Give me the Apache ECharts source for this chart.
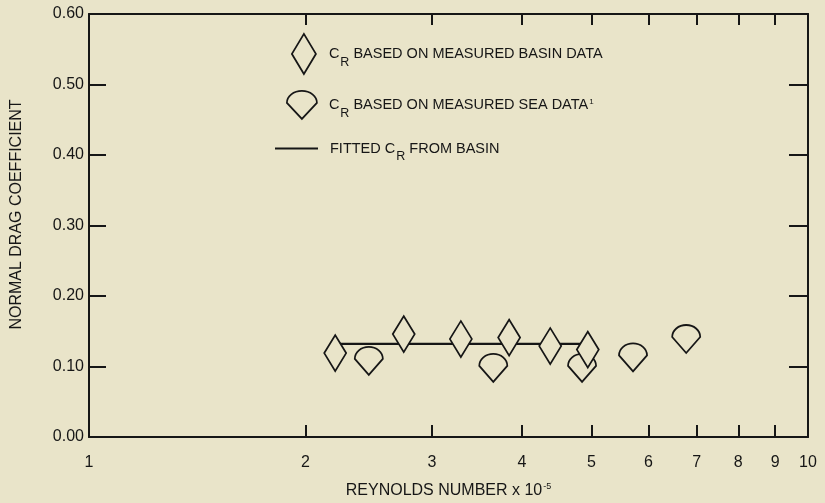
<!DOCTYPE html>
<html>
<head>
<meta charset="utf-8">
<script src="https://cdn.jsdelivr.net/npm/echarts@6/dist/echarts.min.js"></script>
<style>
html,body{margin:0;padding:0;background:#e9e4c9;}
#chart{width:825px;height:503px;}
</style>
</head>
<body>
<div id="chart"></div>
<script>
// Basin data (diamonds): [Reynolds number x 1e-5, Cr]
const basinX = [2.20, 2.74, 3.29, 3.84, 4.38, 4.94];
const basinY = [0.119, 0.146, 0.139, 0.141, 0.129, 0.124];
// Sea data
const seaX = [2.45, 3.65, 4.85, 5.71, 6.77];
const seaY = [0.108, 0.098, 0.098, 0.113, 0.139];
// Fitted line from basin
const fitX = [2.20, 4.94];
const fitY = [0.132, 0.132];
// Tick values
const xTickValues = [1, 2, 3, 4, 5, 6, 7, 8, 9, 10];
const xInnerTicks = [2, 3, 4, 5, 6, 7, 8, 9];
const yTickLabels = [0, 0.1, 0.2, 0.3, 0.4, 0.5, 0.6];
const yInnerTicks = [0.1, 0.2, 0.3, 0.4, 0.5];

const BG = '#e9e4c9';
const INK = '#161616';
const FONT = '"Liberation Sans", Arial, Helvetica, sans-serif';
const seaSymbol = 'path://M0,12 A14,12 0 0 1 28,12 L14,28 Z';
const seaLegendSymbol = 'path://M0,10 A15,12 0 0 1 30,10 L15,26 Z';

const legendText = {
  color: INK, fontFamily: FONT, fontSize: 14.5, padding: [0, 0, 0, 8],
  rich: {
    sub: {fontSize: 12.5, fontFamily: FONT, color: INK, padding: [17, 0, 0, 1]},
    sup: {fontSize: 8, fontFamily: FONT, color: INK, padding: [0, 0, 7, 1]}
  }
};
const legendItemStyle = {color: BG, borderColor: INK, borderWidth: 1.8};

const chart = echarts.init(document.getElementById('chart'), null, {renderer: 'canvas'});
chart.setOption({
  backgroundColor: BG,
  animation: false,
  grid: {left: 89, right: 17, top: 14, bottom: 66, containLabel: false, outerBoundsMode: 'none'},
  legend: [
    {
      data: [{name: 'basin', icon: 'diamond'}],
      left: 291, top: 33, itemWidth: 24, itemHeight: 40, padding: 0, selectedMode: false,
      itemStyle: legendItemStyle, textStyle: legendText,
      formatter: () => 'C{sub|R} BASED ON MEASURED BASIN DATA'
    },
    {
      data: [{name: 'sea', icon: seaLegendSymbol}],
      left: 286, top: 90, itemWidth: 30, itemHeight: 28, padding: 0, selectedMode: false,
      itemStyle: legendItemStyle, textStyle: Object.assign({}, legendText, {padding: [0, 0, 0, 7]}),
      formatter: () => 'C{sub|R} BASED ON MEASURED SEA DATA{sup|1}'
    },
    {
      data: [{name: 'fit', icon: 'rect'}],
      left: 275, top: 141, itemWidth: 43, itemHeight: 2, padding: 0, selectedMode: false,
      itemStyle: {color: INK, borderWidth: 0}, textStyle: Object.assign({}, legendText, {padding: [0, 0, 0, 7]}),
      formatter: () => 'FITTED C{sub|R} FROM BASIN'
    }
  ],
  xAxis: [
    {
      type: 'log', logBase: 10, min: 1, max: 10, position: 'bottom',
      name: 'REYNOLDS NUMBER x 10{sup|-5}', nameLocation: 'middle', nameGap: 45,
      nameTextStyle: {color: INK, fontFamily: FONT, fontSize: 16,
        rich: {sup: {fontSize: 9, fontFamily: FONT, color: INK, padding: [0, 0, 9, 1]}}},
      axisLine: {show: true, onZero: false, lineStyle: {color: INK, width: 2}},
      axisTick: {show: true, inside: true, length: 12, lineStyle: {color: INK, width: 2}, customValues: xInnerTicks},
      axisLabel: {show: true, margin: 18, color: INK, fontFamily: FONT, fontSize: 16, customValues: xTickValues,
        formatter: v => String(Math.round(v))},
      splitLine: {show: false}, minorTick: {show: false}
    },
    {
      type: 'log', logBase: 10, min: 1, max: 10, position: 'top',
      axisLine: {show: true, onZero: false, lineStyle: {color: INK, width: 2}},
      axisTick: {show: true, inside: true, length: 11, lineStyle: {color: INK, width: 2}, customValues: xInnerTicks},
      axisLabel: {show: false},
      splitLine: {show: false}
    }
  ],
  yAxis: [
    {
      type: 'value', min: 0, max: 0.6, interval: 0.1, position: 'left',
      name: 'NORMAL DRAG COEFFICIENT', nameLocation: 'middle', nameGap: 64, nameRotate: 90,
      nameTextStyle: {color: INK, fontFamily: FONT, fontSize: 16, padding: [0, 0, 0, 22]},
      axisLine: {show: true, onZero: false, lineStyle: {color: INK, width: 2}},
      axisTick: {show: true, inside: true, length: 17, lineStyle: {color: INK, width: 2}, customValues: yInnerTicks},
      axisLabel: {show: true, margin: 5, color: INK, fontFamily: FONT, fontSize: 16, customValues: yTickLabels,
        formatter: v => v.toFixed(2)},
      splitLine: {show: false}
    },
    {
      type: 'value', min: 0, max: 0.6, interval: 0.1, position: 'right',
      axisLine: {show: true, onZero: false, lineStyle: {color: INK, width: 2}},
      axisTick: {show: true, inside: true, length: 19, lineStyle: {color: INK, width: 2}, customValues: yInnerTicks},
      axisLabel: {show: false},
      splitLine: {show: false}
    }
  ],
  series: [
    {
      name: 'fit', type: 'line', xAxisIndex: 0, yAxisIndex: 0, z: 1,
      data: fitX.map((x, i) => [x, fitY[i]]),
      symbol: 'none', color: INK, lineStyle: {color: INK, width: 2.2}
    },
    {
      name: 'sea', type: 'scatter', xAxisIndex: 1, yAxisIndex: 0, z: 3,
      data: seaX.map((x, i) => [x, seaY[i]]),
      symbol: seaSymbol, symbolSize: [28, 28],
      itemStyle: {color: BG, borderColor: INK, borderWidth: 1.8, opacity: 1}
    },
    {
      name: 'basin', type: 'scatter', xAxisIndex: 0, yAxisIndex: 0, z: 4,
      data: basinX.map((x, i) => [x, basinY[i]]),
      symbol: 'diamond', symbolSize: [22, 36],
      itemStyle: {color: BG, borderColor: INK, borderWidth: 1.8, opacity: 1}
    }
  ]
});
</script>
</body>
</html>
